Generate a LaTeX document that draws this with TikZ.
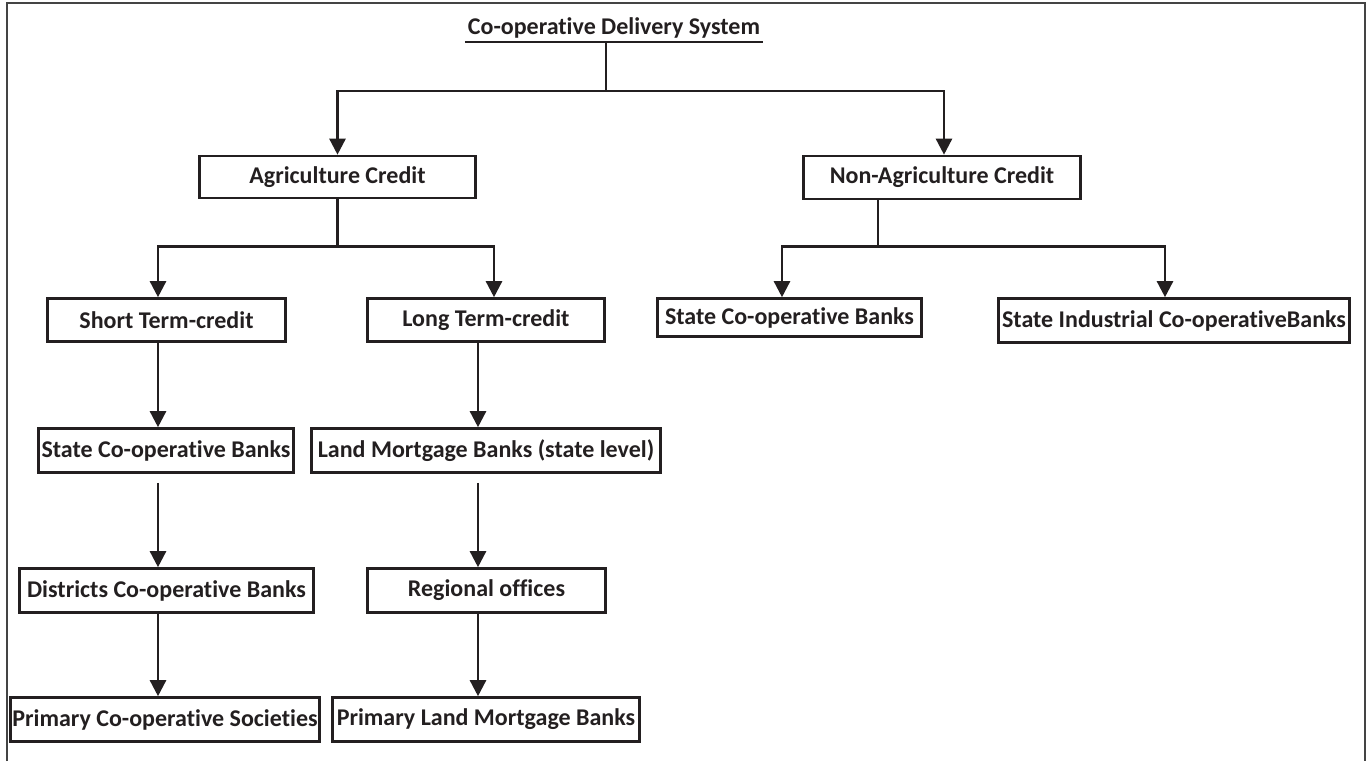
\documentclass[tikz,border=0pt]{standalone}
\usepackage{fontspec}
\setmainfont{Carlito}[Ligatures={NoCommon,NoRare}]
\usetikzlibrary{arrows.meta,calc}
\definecolor{ink}{HTML}{231F20}
\definecolor{framec}{HTML}{444444}
\begin{document}
\begin{tikzpicture}[x=1pt,y=-1pt,
  box/.style={draw=ink, line width=2.6pt, inner sep=0pt, font=\bfseries\fontsize{24}{28}\selectfont, text=ink},
  arr/.style={draw=ink, line width=2.5pt, -{Triangle[length=16pt,width=16pt]}},
  ln/.style={draw=ink, line width=2.5pt}]
\useasboundingbox (0,0) rectangle (1366,761);
\draw[framec, line width=1.8pt] (7,761) -- (7,3) -- (1365,3) -- (1365,761);

% title
\node[font=\bfseries\fontsize{24}{28}\selectfont, text=ink, anchor=south, inner xsep=0pt, inner ysep=4pt, minimum width=298pt] (title) at (614,42) {Co-operative Delivery System};
\draw[ln] (title.south west) -- (title.south east);

% boxes
\node[box, minimum width=276pt, minimum height=42pt] (ag) at (337.5,177) {Agriculture Credit};
\node[box, minimum width=277pt, minimum height=43pt] (nag) at (942,177.5) {Non-Agriculture Credit};
\node[box, minimum width=238pt, minimum height=43pt] (st) at (166.5,320) {Short Term-credit};
\node[box, minimum width=237pt, minimum height=43pt] (lt) at (486,320) {Long Term-credit};
\node[box, minimum width=264pt, minimum height=38pt] (scb2) at (789.5,317.5) {State Co-operative Banks};
\node[box, minimum width=351pt, minimum height=44pt] (sicb) at (1174,320.5) {State Industrial Co-operativeBanks};
\node[box, minimum width=255pt, minimum height=44pt] (scb1) at (166,450.5) {State Co-operative Banks};
\node[box, minimum width=349pt, minimum height=44pt] (lmb) at (486,450.5) {Land Mortgage Banks (state level)};
\node[box, minimum width=294pt, minimum height=44pt] (dcb) at (166.5,590.5) {Districts Co-operative Banks};
\node[box, minimum width=238pt, minimum height=44pt] (ro) at (486.5,590.5) {Regional offices};
\node[box, minimum width=309pt, minimum height=44pt] (pcs) at (165,719.5) {Primary Co-operative Societies};
\node[box, minimum width=307pt, minimum height=44pt] (plmb) at (486,719.5) {Primary Land Mortgage Banks};

% columns
\coordinate (cL) at (158,0);
\coordinate (cR) at (478,0);

% connectors
\draw[ln] ([xshift=-8pt]title.south) -- ++(0,49) coordinate (j0);
\draw[arr] (j0) -| (ag.north);
\draw[arr] (j0) -| ([xshift=2pt]nag.north);

\draw[ln] (ag.south) -- ++(0,47) coordinate (j1);
\draw[arr] (j1) -| (st.north -| cL);
\draw[arr] (j1) -| ([xshift=8pt]lt.north);

\draw[ln] ([xshift=-64pt]nag.south) -- ++(0,46) coordinate (j2);
\draw[arr] (j2) -| ([xshift=-7.5pt]scb2.north);
\draw[arr] (j2) -| ([xshift=-9pt]sicb.north);

\draw[arr] (st.south -| cL) -- (scb1.north -| cL);
\draw[arr] (lt.south -| cR) -- (lmb.north -| cR);
\draw[arr] ($(scb1.south -| cL)+(0,9)$) -- (dcb.north -| cL);
\draw[arr] ($(lmb.south -| cR)+(0,9)$) -- (ro.north -| cR);
\draw[arr] (dcb.south -| cL) -- (pcs.north -| cL);
\draw[arr] (ro.south -| cR) -- (plmb.north -| cR);
\end{tikzpicture}
\end{document}
